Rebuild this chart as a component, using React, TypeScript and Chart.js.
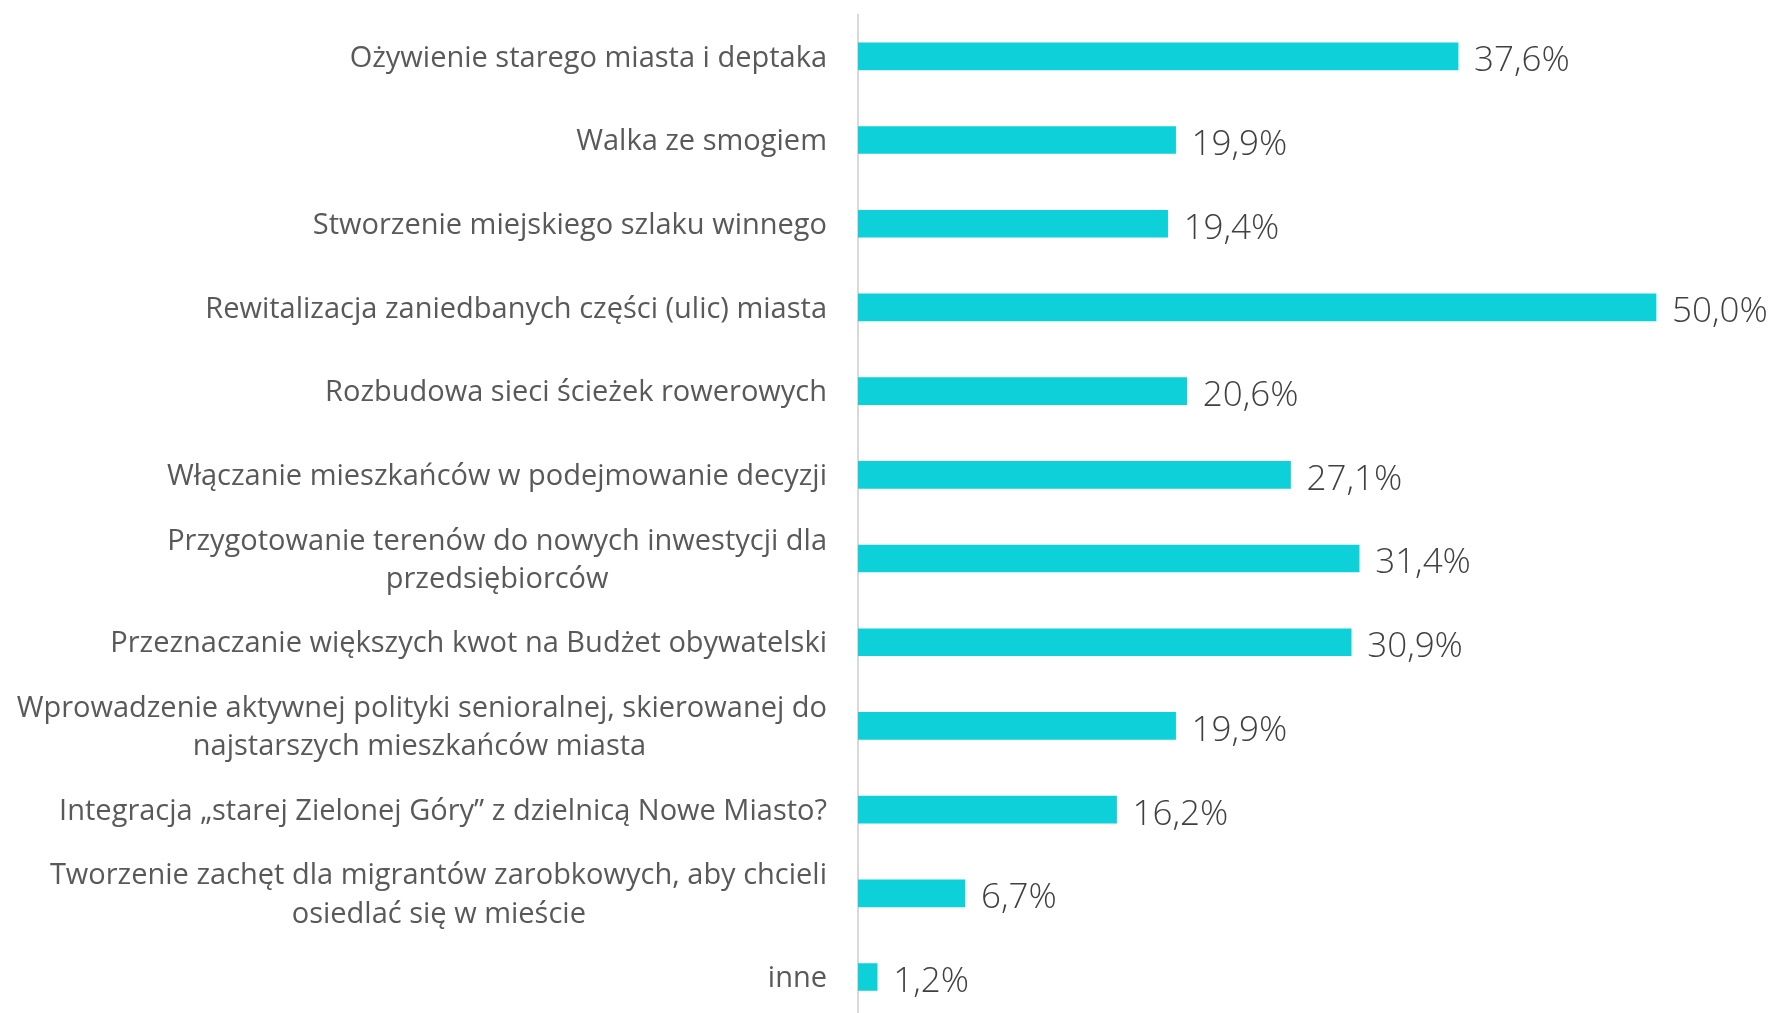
import React, { useEffect, useRef } from "react";
import { Chart, registerables } from "chart.js";

Chart.register(...registerables);

const categoryLines: string[][] = [
  ["Ożywienie starego miasta i deptaka"],
  ["Walka ze smogiem"],
  ["Stworzenie miejskiego szlaku winnego"],
  ["Rewitalizacja zaniedbanych części (ulic) miasta"],
  ["Rozbudowa sieci ścieżek rowerowych"],
  ["Włączanie mieszkańców w podejmowanie decyzji"],
  ["Przygotowanie terenów do nowych inwestycji dla", "przedsiębiorców"],
  ["Przeznaczanie większych kwot na Budżet obywatelski"],
  ["Wprowadzenie aktywnej polityki senioralnej, skierowanej do", "najstarszych mieszkańców miasta"],
  ["Integracja „starej Zielonej Góry” z dzielnicą Nowe Miasto?"],
  ["Tworzenie zachęt dla migrantów zarobkowych, aby chcieli", "osiedlać się w mieście"],
  ["inne"],
];

const values: number[] = [37.6, 19.9, 19.4, 50.0, 20.6, 27.1, 31.4, 30.9, 19.9, 16.2, 6.7, 1.2];

const formatValue = (v: number) => v.toFixed(1).replace(".", ",") + "%";

const LABEL_FONT_FAMILY = '"Open Sans", sans-serif';
const LABEL_FONT_SIZE = 29;
const VALUE_FONT_SIZE = 35;

function centerLines(lines: string[]): string[] {
  if (lines.length < 2) return lines;
  const c = document.createElement("canvas").getContext("2d")!;
  c.font = `${LABEL_FONT_SIZE}px ${LABEL_FONT_FAMILY}`;
  const widths = lines.map((l) => c.measureText(l).width);
  const maxW = Math.max(...widths);
  const sp = c.measureText(" ").width || 7;
  return lines.map((l, i) => {
    const pad = (maxW - widths[i]) / 2;
    const n = Math.round(pad / sp);
    return l + " ".repeat(n);
  });
}

const valueLabelPlugin = {
  id: "valueLabels",
  afterDatasetsDraw(chart: any) {
    const ctx = chart.ctx;
    const meta = chart.getDatasetMeta(0);
    ctx.save();
    ctx.font = `300 ${VALUE_FONT_SIZE}px ${LABEL_FONT_FAMILY}`;
    ctx.fillStyle = "#404040";
    ctx.textAlign = "left";
    ctx.textBaseline = "middle";
    meta.data.forEach((bar: any, i: number) => {
      ctx.fillText(formatValue(values[i]), bar.x + 16, bar.y + 5);
    });
    ctx.restore();
  },
};

export default function App() {
  const ref = useRef<HTMLCanvasElement>(null);

  useEffect(() => {
    if (!ref.current) return;
    const tickLabels = categoryLines.map(centerLines);
    const chart = new Chart(ref.current, {
      type: "bar",
      data: {
        datasets: [
          {
            data: values.map((v, i) => ({ x: v, y: i })),
            backgroundColor: "#0DD0D9",
            borderWidth: 0,
            barThickness: 27,
          } as any,
        ],
      },
      options: {
        indexAxis: "y",
        responsive: false,
        animation: false,
        layout: { padding: { top: 14.5, right: 0, bottom: 0, left: 0 } },
        plugins: {
          legend: { display: false },
          tooltip: { enabled: false },
        },
        scales: {
          x: {
            type: "linear",
            min: 0,
            max: 57.33,
            display: false,
          },
          y: {
            type: "linear",
            reverse: true,
            offset: false,
            bounds: "data",
            grace: 0,
            min: -0.5,
            max: 11.43,
            afterBuildTicks: (scale: any) => {
              scale.ticks = categoryLines.map((_, i) => ({ value: i }));
            },
            afterDataLimits: (scale: any) => {
              scale.min = -0.5;
              scale.max = 11.43;
            },
            afterFit: (scale: any) => {
              scale.width = 858;
              scale.paddingTop = 0;
              scale.paddingBottom = 0;
            },
            grid: { display: false, drawTicks: false, offset: false },
            border: { display: true, color: "#d9d9d9", width: 2 },
            ticks: {
              autoSkip: false,
              padding: 31,
              labelOffset: 2,
              color: "#595959",
              font: { family: LABEL_FONT_FAMILY, size: LABEL_FONT_SIZE, lineHeight: 1.33 },
              callback: (value: any) => {
                const idx = Math.round(Number(value));
                return tickLabels[idx] ?? "";
              },
            },
          },
        },
      } as any,
      plugins: [valueLabelPlugin],
    });
    return () => chart.destroy();
  }, []);

  return (
    <div style={{ position: "absolute", left: 0, top: 0, width: 1773, height: 1013, background: "#fff" }}>
      <canvas ref={ref} width={1773} height={1013} style={{ display: "block" }} />
    </div>
  );
}
